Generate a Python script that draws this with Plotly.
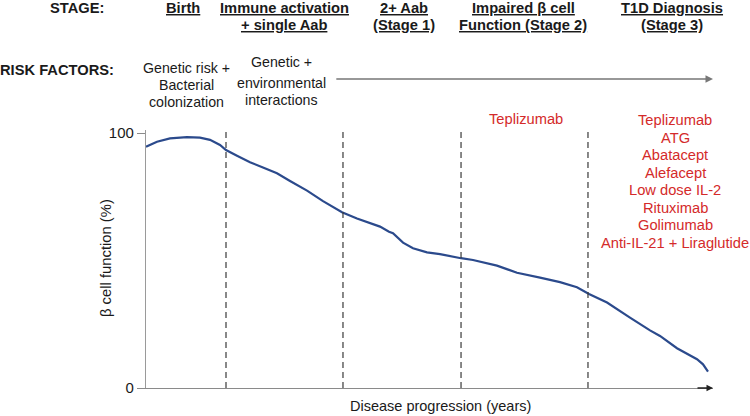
import plotly.graph_objects as go

# ---- data ----
progress = [0, 1.94, 4.23, 7.23, 9.52, 11.29, 13.05, 14.11, 16.05, 18.34, 20.63, 23.10,
            25.40, 28.40, 31.22, 32.98, 34.57, 37.21, 40.04, 41.27, 42.86, 43.56, 45.33,
            47.09, 49.56, 51.85, 55.56, 57.67, 61.90, 65.43, 69.49, 73.02, 76.01, 78.13,
            81.31, 83.60, 85.36, 88.89, 90.65, 93.65, 97.18, 98.24, 99.12]
beta_function = [94.6, 96.6, 97.9, 98.4, 98.2, 97.3, 95.3, 93.3, 91.1, 88.5, 86.5, 84.2,
                 81.2, 77.4, 73.3, 71.1, 68.9, 66.5, 64.2, 63.3, 61.3, 60.7, 57.0,
                 54.8, 53.2, 52.5, 50.9, 50.2, 48.0, 45.2, 43.3, 41.5, 39.5, 36.9,
                 33.5, 30.0, 27.6, 22.6, 20.4, 15.6, 11.3, 9.3, 6.4]
stage_boundaries = [14.11, 34.74, 55.56, 77.95]
stage_labels = [["Birth"], ["Immune activation", "+ single Aab"], ["2+ Aab", "(Stage 1)"],
                ["Impaired β cell", "Function (Stage 2)"], ["T1D Diagnosis", "(Stage 3)"]]
risk_factors = [["Genetic risk +", "Bacterial", "colonization"],
                ["Genetic +", "environmental", "interactions"]]
stage2_therapies = ["Teplizumab"]
stage3_therapies = ["Teplizumab", "ATG", "Abatacept", "Alefacept", "Low dose IL-2",
                    "Rituximab", "Golimumab", "Anti-IL-21 + Liraglutide"]
y_ticks = [0, 100]

# ---- layout geometry ----
W, H = 750, 416
L, R, T, B = 146, 37, 130, 28
PW, PH = W - L - R, H - T - B
FONT = "Liberation Sans, Arial, sans-serif"
RED = "#d42a2a"


def px(x):
    return (x - L) / PW


def py(y):
    return (H - B - y) / PH


fig = go.Figure()
fig.add_trace(go.Scatter(x=progress, y=beta_function, mode="lines",
                         line=dict(color="#2b4a8c", width=2.2),
                         hoverinfo="skip", showlegend=False))

for xb in stage_boundaries:
    fig.add_shape(type="line", xref="x", yref="y", x0=xb, x1=xb, y0=0, y1=100.9,
                  line=dict(color="#3a3a3a", width=1.2, dash="6px,4px"))

ann = []


def text(x, y, s, size=14.7, color="#1a1a1a", bold=False, underline=False, angle=0):
    if underline:
        s = "<u>" + s + "</u>"
    if bold:
        s = "<b>" + s + "</b>"
    ann.append(dict(x=px(x), y=py(y), xref="paper", yref="paper", text=s, showarrow=False,
                    xanchor="center", yanchor="middle", textangle=angle,
                    font=dict(family=FONT, size=size, color=color)))


text(77, 8, "STAGE:", bold=True)
stage_centers = [183, 284, 404, 523, 672]
for cx, lines in zip(stage_centers, stage_labels):
    for i, ln in enumerate(lines):
        text(cx, 8 + 17 * i, ln, bold=True, underline=True)

text(57, 70, "RISK FACTORS:", bold=True)
for lines, cx, ys in zip(risk_factors, [186, 281], [[68, 85, 102], [62, 83, 100]]):
    for ln, yy in zip(lines, ys):
        text(cx, yy, ln, size=14.2)

for i, s in enumerate(stage2_therapies):
    text(526, 119 + 17.5 * i, s, color=RED)
for i, s in enumerate(stage3_therapies):
    text(675, 120 + 17.5 * i, s, color=RED)

text(106, 258, "β cell function (%)", size=14.8, angle=-90)
text(440, 406, "Disease progression (years)", size=14.5)

# risk factor arrow
ann.append(dict(x=100, y=py(79), xref="x", yref="paper", ax=33.3, ay=0,
                axref="x", ayref="pixel", showarrow=True, arrowhead=2, arrowsize=1,
                arrowwidth=1.5, arrowcolor="#777", text=""))
# x axis arrow head
ann.append(dict(x=100, y=0, xref="x", yref="y", ax=97, ay=0, axref="x", ayref="y",
                showarrow=True, arrowhead=2, arrowsize=1, arrowwidth=1.3,
                arrowcolor="#222", text=""))

fig.update_layout(
    width=W, height=H, margin=dict(l=L, r=R, t=T, b=B),
    paper_bgcolor="white", plot_bgcolor="white",
    annotations=ann,
    xaxis=dict(range=[0, 100], showgrid=False, zeroline=False, showline=True,
               linecolor="#8a8a8a", linewidth=1.3, showticklabels=False, ticks=""),
    yaxis=dict(range=[0, PH / 2.55], showgrid=False, zeroline=False, showline=True,
               linecolor="#9a9a9a", linewidth=1.3, tickvals=y_ticks, ticks="outside",
               ticklen=8, tickcolor="#8a8a8a", tickwidth=1.3,
               tickfont=dict(family=FONT, size=15, color="#1a1a1a")),
)

fig.write_html("out.html", config={"displayModeBar": False},
               post_script="document.body.style.margin='0';")
